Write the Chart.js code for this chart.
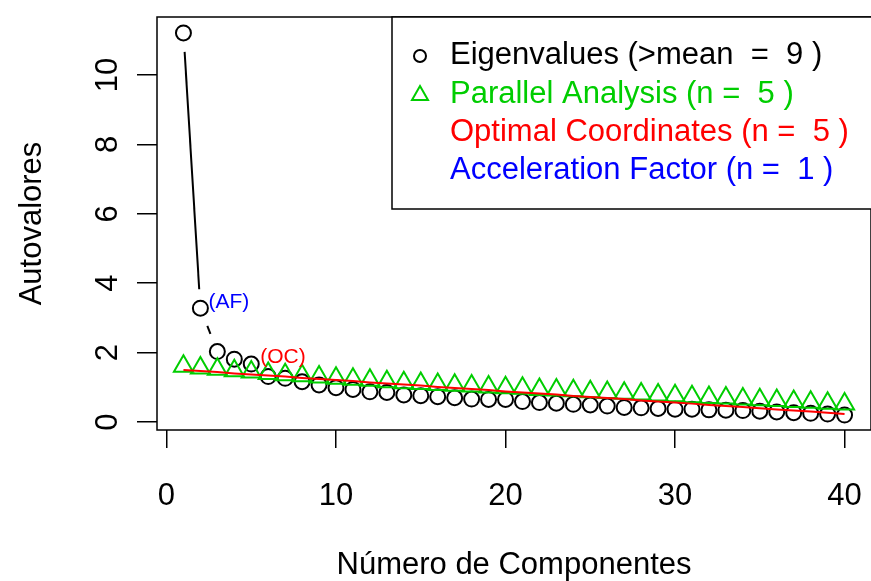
<!DOCTYPE html>
<html>
<head>
<meta charset="utf-8">
<script src="https://cdn.jsdelivr.net/npm/chart.js@4"></script>
<style>
  body { margin: 0; background: #fff; }
  #wrap { width: 871px; height: 581px; position: relative; }
</style>
</head>
<body>
<div id="wrap"><canvas id="scree"></canvas></div>
<script>
// number of the component (x)
const components = [1,2,3,4,5,6,7,8,9,10,11,12,13,14,15,16,17,18,19,20,
                    21,22,23,24,25,26,27,28,29,30,31,32,33,34,35,36,37,38,39,40];

// observed eigenvalues
const eigenvalues = [11.21,3.28,2.03,1.81,1.67,1.31,1.26,1.16,1.07,0.99,
                     0.94,0.87,0.85,0.78,0.76,0.73,0.70,0.66,0.65,0.65,
                     0.59,0.56,0.54,0.51,0.49,0.46,0.42,0.41,0.39,0.37,
                     0.37,0.35,0.34,0.33,0.31,0.29,0.27,0.25,0.23,0.20];

// parallel analysis (mean of random eigenvalues)
const parallel = [1.61,1.56,1.52,1.48,1.44,1.40,1.36,1.33,1.30,1.26,
                  1.23,1.20,1.16,1.13,1.11,1.08,1.06,1.04,1.01,0.99,
                  0.97,0.94,0.92,0.90,0.87,0.85,0.83,0.81,0.78,0.76,
                  0.73,0.71,0.69,0.66,0.64,0.62,0.59,0.57,0.54,0.52];

// optimal coordinates line
const optimal = [1.50,1.47,1.44,1.40,1.37,1.34,1.31,1.27,1.24,1.21,
                 1.18,1.14,1.11,1.08,1.05,1.01,0.98,0.95,0.92,0.88,
                 0.85,0.82,0.79,0.75,0.72,0.69,0.66,0.62,0.59,0.56,
                 0.53,0.49,0.46,0.43,0.40,0.36,0.33,0.30,0.27,0.23];

const legendLabels = [
  "Eigenvalues (>mean  =  9 )",
  "Parallel Analysis (n =  5 )",
  "Optimal Coordinates (n =  5 )",
  "Acceleration Factor (n =  1 )"
];
const afComponent = 2;   // (AF) label next to this component
const ocComponent = 5;   // (OC) label next to this component

const GREEN = "#00CD00", RED = "#FF0000", BLUE = "#0000FF";
const FONT = "'Liberation Sans', Arial, Helvetica, sans-serif";

const toXY = (ys) => components.map((c, i) => ({ x: c, y: ys[i] }));

// box, broken eigenvalue line (type = "b"), AF/OC marks and the legend
const screeExtras = {
  id: "screeExtras",
  afterDatasetsDraw(chart) {
    const ctx = chart.ctx;
    const area = chart.chartArea;
    const xs = chart.scales.x, ys = chart.scales.y;

    ctx.save();
    // segments between eigenvalue points, leaving a gap around each point
    const gap = 19;
    ctx.strokeStyle = "#000";
    ctx.lineWidth = 2;
    for (let i = 0; i < components.length - 1; i++) {
      const x1 = xs.getPixelForValue(components[i]), y1 = ys.getPixelForValue(eigenvalues[i]);
      const x2 = xs.getPixelForValue(components[i+1]), y2 = ys.getPixelForValue(eigenvalues[i+1]);
      const len = Math.hypot(x2 - x1, y2 - y1);
      if (len <= 2 * gap) continue;
      const ux = (x2 - x1) / len, uy = (y2 - y1) / len;
      ctx.beginPath();
      ctx.moveTo(x1 + ux * gap, y1 + uy * gap);
      ctx.lineTo(x2 - ux * gap, y2 - uy * gap);
      ctx.stroke();
    }

    // (AF) and (OC)
    ctx.font = "21px " + FONT;
    ctx.textAlign = "left";
    ctx.textBaseline = "middle";
    ctx.fillStyle = BLUE;
    ctx.fillText("(AF)", xs.getPixelForValue(afComponent) + 8,
                 ys.getPixelForValue(eigenvalues[afComponent - 1]) - 6);
    ctx.fillStyle = RED;
    ctx.fillText("(OC)", xs.getPixelForValue(ocComponent) + 9,
                 ys.getPixelForValue(eigenvalues[ocComponent - 1]) - 7);

    // plot box
    ctx.strokeStyle = "#000";
    ctx.lineWidth = 1.5;
    ctx.strokeRect(area.left, area.top, area.right - area.left, area.bottom - area.top);

    // legend (top right)
    const lx = 392, ly = area.top, lh = 192;
    ctx.fillStyle = "#fff";
    ctx.fillRect(lx, ly, 520, lh);
    ctx.strokeRect(lx, ly, 520, lh);
    const rowY = [55, 94, 132, 170];
    const colors = ["#000", GREEN, RED, BLUE];
    ctx.font = "31px " + FONT;
    legendLabels.forEach((txt, i) => {
      ctx.fillStyle = colors[i];
      ctx.fillText(txt, 450, rowY[i]);
    });
    ctx.lineWidth = 2;
    ctx.strokeStyle = "#000";
    ctx.beginPath();
    ctx.arc(420, rowY[0] + 1, 6, 0, Math.PI * 2);
    ctx.stroke();
    ctx.strokeStyle = GREEN;
    ctx.beginPath();
    ctx.moveTo(420, rowY[1] - 8);
    ctx.lineTo(428, rowY[1] + 6);
    ctx.lineTo(412, rowY[1] + 6);
    ctx.closePath();
    ctx.stroke();
    ctx.restore();
  }
};

Chart.defaults.font.family = FONT;
Chart.defaults.font.size = 31;
Chart.defaults.color = "#000";

new Chart(document.getElementById("scree"), {
  type: "scatter",
  data: {
    datasets: [
      {
        label: "Optimal Coordinates",
        data: toXY(optimal),
        showLine: true,
        borderColor: RED,
        borderWidth: 2,
        pointRadius: 0
      },
      {
        label: "Parallel Analysis",
        data: toXY(parallel),
        pointStyle: "triangle",
        pointRadius: 11,
        borderColor: GREEN,
        backgroundColor: "rgba(0,0,0,0)",
        pointBorderWidth: 2
      },
      {
        label: "Eigenvalues",
        data: toXY(eigenvalues),
        pointStyle: "circle",
        pointRadius: 7.5,
        borderColor: "#000",
        backgroundColor: "rgba(0,0,0,0)",
        pointBorderWidth: 2
      }
    ]
  },
  options: {
    responsive: true,
    maintainAspectRatio: false,
    animation: false,
    layout: { autoPadding: false, padding: { top: 17, right: -2, left: 0, bottom: 0 } },
    plugins: { legend: { display: false }, tooltip: { enabled: false } },
    scales: {
      x: {
        type: "linear",
        min: -0.56,
        max: 41.56,
        afterFit: (s) => { s.height = 151; s.paddingLeft = 0; s.paddingRight = 0; },
        border: { display: false },
        grid: { drawOnChartArea: false, drawTicks: true, tickLength: 18, color: "#000", lineWidth: 1.5 },
        ticks: { stepSize: 10, includeBounds: false, padding: 30, maxRotation: 0 },
        title: { display: true, text: "Número de Componentes", padding: { top: 0, bottom: -3 } }
      },
      y: {
        min: -0.23,
        max: 11.67,
        afterFit: (s) => { s.width = 157; s.paddingTop = 0; s.paddingBottom = 0; },
        border: { display: false },
        grid: { drawOnChartArea: false, drawTicks: true, tickLength: 20, color: "#000", lineWidth: 1.5 },
        ticks: { stepSize: 2, includeBounds: false, minRotation: 90, maxRotation: 90, crossAlign: "center", padding: 11 },
        title: { display: true, text: "Autovalores", padding: { top: 14, bottom: 0 } }
      }
    }
  },
  plugins: [screeExtras]
});
</script>
</body>
</html>
